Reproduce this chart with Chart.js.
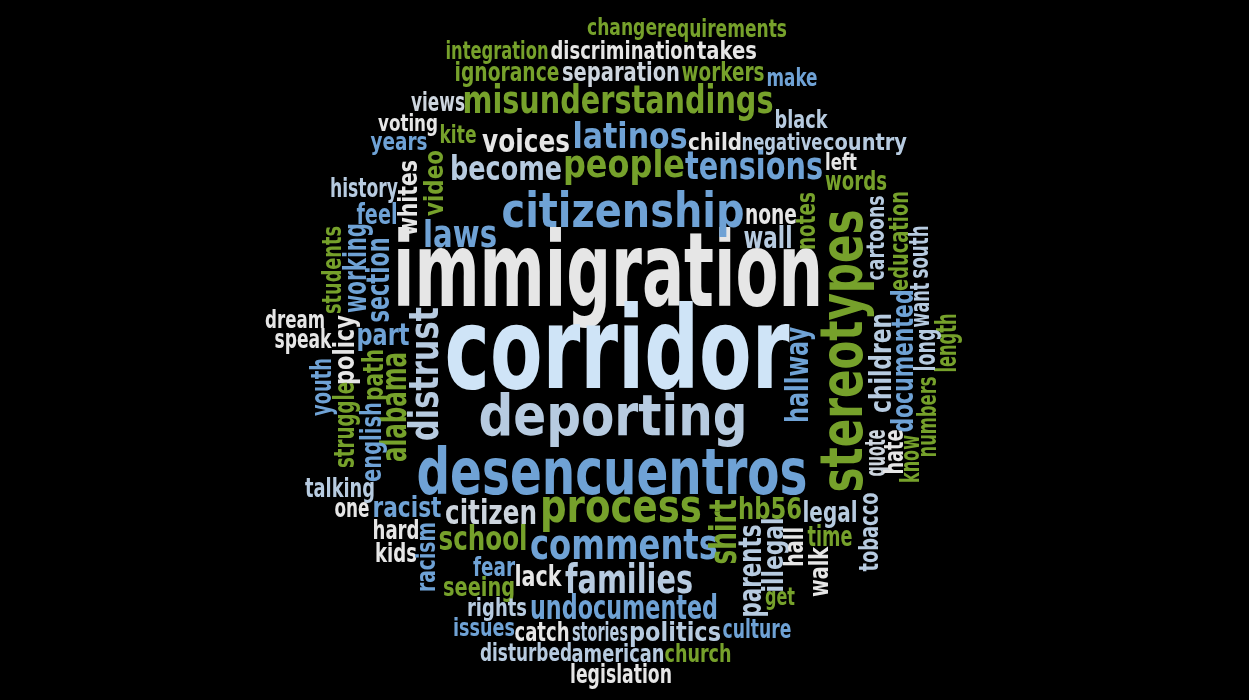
<!DOCTYPE html>
<html>
<head>
<meta charset="utf-8">
<script src="https://cdn.jsdelivr.net/npm/chart.js@4.4.0/dist/chart.umd.min.js"></script>
<style>
  html, body { margin: 0; background: #000; overflow: hidden; }
  #wrap { width: 1249px; height: 700px; }
</style>
</head>
<body>
<div id="wrap"><canvas id="cloud"></canvas></div>
<script>
// words of the cloud
var words = [
  "immigration", "corridor", "deporting", "desencuentros", "stereotypes",
  "citizenship", "misunderstandings", "process", "people", "latinos",
  "tensions", "comments", "families", "undocumented", "distrust",
  "become", "laws", "voices", "citizen", "school",
  "hb56", "shirt", "alabama", "hallway", "documented",
  "children", "parents", "section", "working", "part",
  "racist", "change", "requirements", "integration", "discrimination",
  "takes", "ignorance", "separation", "workers", "make",
  "views", "black", "voting", "kite", "years",
  "child", "negative", "country", "left", "words",
  "history", "whites", "video", "feel", "none",
  "wall", "notes", "cartoons", "education", "south",
  "want", "length", "long", "numbers", "know",
  "quote", "hate", "students", "dream", "speak",
  "policy", "youth", "struggle", "path", "english",
  "talking", "one", "hard", "kids", "racism",
  "fear", "lack", "seeing", "rights", "issues",
  "catch", "stories", "politics", "culture", "disturbed",
  "american", "church", "legislation", "legal", "illegal",
  "hall", "time", "walk", "tobacco", "get"
];

// colour group of each word
var wordGroup = [
  "W", "C", "L", "B", "G",
  "B", "G", "G", "G", "B",
  "B", "B", "L", "B", "L",
  "L", "B", "W", "P", "G",
  "G", "G", "G", "B", "B",
  "L", "L", "B", "B", "B",
  "B", "G", "G", "G", "W",
  "W", "G", "P", "G", "B",
  "P", "L", "W", "G", "B",
  "W", "L", "L", "W", "G",
  "L", "W", "G", "B", "W",
  "L", "G", "L", "G", "L",
  "L", "G", "L", "G", "G",
  "P", "W", "G", "W", "W",
  "W", "B", "G", "G", "B",
  "L", "W", "W", "W", "B",
  "B", "W", "G", "L", "B",
  "W", "L", "L", "B", "L",
  "L", "G", "W", "L", "L",
  "W", "G", "W", "L", "G"
];

// cloud layout: centre x, centre y, x-height, span, upright (1 = reads bottom to top)
var wordPlace = [
  [608, 278, 55, 430, 0], [617, 358, 60, 345, 0], [613, 420, 30, 269, 0], [612, 477, 34, 391, 0], [846, 351, 31, 283, 1],
  [623, 214, 25, 243, 0], [618, 102, 21, 311, 0], [621, 510, 24, 162, 0], [624, 167, 20, 122, 0], [630, 138, 19, 115, 0],
  [754, 168, 21, 138, 0], [624, 547, 23, 188, 0], [629, 582, 22, 128, 0], [624, 610, 18, 188, 0], [427, 374, 22, 134, 1],
  [506, 171, 18, 112, 0], [460, 237, 20, 74, 0], [526, 143, 17, 88, 0], [491, 515, 18, 92, 0], [483, 541, 18, 89, 0],
  [770, 511, 16, 64, 0], [726, 532, 20, 65, 1], [396, 407, 19, 110, 1], [799, 375, 17, 96, 1], [905, 361, 16, 143, 1],
  [883, 363, 16, 100, 1], [752, 571, 17, 93, 1], [380, 280, 17, 85, 1], [357, 268, 17, 90, 1], [383, 337, 16, 53, 0],
  [407, 509, 15, 69, 0], [622, 29, 12, 70, 0], [722, 30, 13, 130, 0], [497, 52, 13, 103, 0], [623, 52, 13, 145, 0],
  [727, 52, 13, 60, 0], [507, 74, 14, 105, 0], [621, 74, 14, 118, 0], [723, 74, 14, 83, 0], [792, 79, 13, 51, 0],
  [438, 104, 14, 54, 0], [801, 121, 13, 53, 0], [408, 125, 12, 60, 0], [458, 136, 13, 37, 0], [399, 143, 13, 57, 0],
  [715, 144, 12, 54, 0], [782, 144, 12, 81, 0], [865, 144, 12, 84, 0], [841, 164, 12, 32, 0], [856, 183, 14, 62, 0],
  [364, 190, 14, 68, 0], [410, 198, 14, 76, 1], [436, 183, 14, 66, 1], [377, 216, 15, 41, 0], [771, 216, 15, 52, 0],
  [768, 240, 16, 49, 0], [808, 221, 14, 58, 1], [877, 238, 13, 85, 1], [901, 241, 14, 100, 1], [921, 252, 14, 53, 1],
  [922, 305, 14, 45, 1], [948, 343, 15, 59, 1], [927, 350, 15, 43, 1], [929, 417, 14, 81, 1], [912, 459, 14, 48, 1],
  [877, 453, 15, 47, 1], [896, 452, 14, 45, 1], [334, 270, 14, 88, 1], [295, 321, 13, 60, 0], [303, 341, 14, 57, 0],
  [346, 350, 15, 70, 1], [323, 387, 15, 58, 1], [346, 425, 15, 86, 1], [375, 375, 15, 52, 1], [373, 442, 15, 80, 1],
  [340, 490, 14, 70, 0], [352, 510, 14, 35, 0], [396, 532, 14, 47, 0], [396, 555, 14, 42, 0], [428, 557, 14, 70, 1],
  [494, 569, 14, 42, 0], [538, 578, 15, 47, 0], [479, 589, 14, 72, 0], [497, 609, 13, 60, 0], [484, 629, 13, 62, 0],
  [542, 634, 14, 55, 0], [600, 634, 14, 56, 0], [675, 634, 14, 92, 0], [757, 631, 14, 69, 0], [526, 654, 13, 92, 0],
  [618, 655, 13, 93, 0], [698, 655, 13, 67, 0], [621, 676, 14, 102, 0], [830, 514, 15, 55, 0], [775, 555, 15, 75, 1],
  [796, 547, 14, 40, 1], [830, 538, 15, 45, 0], [821, 572, 14, 50, 1], [871, 532, 14, 79, 1], [780, 598, 13, 30, 0]
];

var groupColors = {
  W: "#e6e6e6",
  C: "#cfe4f7",
  L: "#b7cbe0",
  P: "#cdd5de",
  B: "#6fa2d5",
  G: "#76a12b"
};

var points = words.map(function (w, i) {
  var p = wordPlace[i];
  return { x: p[0], y: p[1], word: w, xh: p[2], span: p[3], up: p[4], group: wordGroup[i] };
});

var wordText = {
  id: 'wordText',
  afterDatasetsDraw: function (chart) {
    var ctx = chart.ctx;
    var xs = chart.scales.x, ys = chart.scales.y;
    var meta = chart.getDatasetMeta(0);
    ctx.save();
    ctx.textAlign = 'center';
    ctx.textBaseline = 'alphabetic';
    meta.data.forEach(function (el, i) {
      var d = chart.data.datasets[0].data[i];
      var fs = d.xh / 0.53;
      ctx.font = 'bold ' + fs.toFixed(1) + 'px "Liberation Sans Narrow", "DejaVu Sans Condensed", "Liberation Sans", sans-serif';
      var natural = ctx.measureText(d.word).width;
      var len = d.up
        ? Math.abs(ys.getPixelForValue(d.y + d.span / 2) - ys.getPixelForValue(d.y - d.span / 2))
        : Math.abs(xs.getPixelForValue(d.x + d.span / 2) - xs.getPixelForValue(d.x - d.span / 2));
      ctx.save();
      ctx.translate(el.x, el.y);
      if (d.up) ctx.rotate(-Math.PI / 2);
      ctx.scale(len / natural, 1);
      ctx.fillStyle = groupColors[d.group];
      ctx.fillText(d.word, 0, d.xh / 2);
      ctx.restore();
    });
    ctx.restore();
  }
};

new Chart(document.getElementById('cloud'), {
  type: 'scatter',
  data: {
    datasets: [{
      data: points,
      pointRadius: 0,
      pointHoverRadius: 0
    }]
  },
  options: {
    responsive: true,
    maintainAspectRatio: false,
    animation: false,
    layout: { padding: 0 },
    plugins: { legend: { display: false }, tooltip: { enabled: false } },
    scales: {
      x: { type: 'linear', min: 0, max: 1249, display: false },
      y: { type: 'linear', min: 0, max: 700, reverse: true, display: false }
    }
  },
  plugins: [wordText]
});
</script>
</body>
</html>
